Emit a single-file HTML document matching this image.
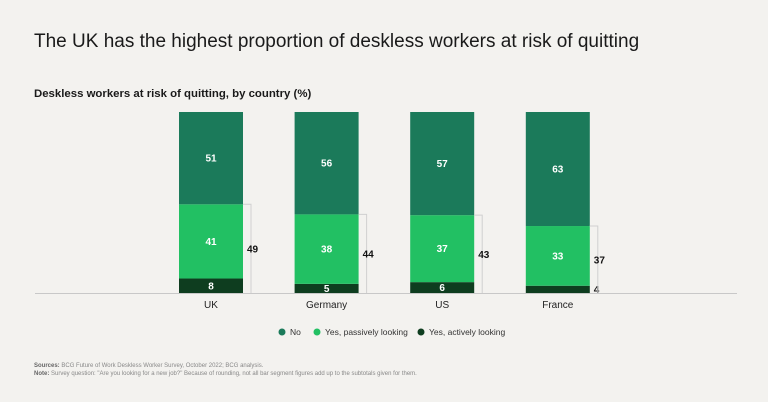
<!DOCTYPE html>
<html><head><meta charset="utf-8"><style>
body{margin:0;background:#f3f2ef;font-family:"Liberation Sans",sans-serif;}
#c{position:relative;width:768px;height:402px;overflow:hidden;}
</style></head><body>
<div id="c">
<svg id="s" width="768" height="402">
<text x="34" y="47" font-size="19" fill="#1a1a1a">The UK has the highest proportion of deskless workers at risk of quitting</text>
<text x="34" y="97" font-size="11.4" font-weight="bold" fill="#1a1a1a">Deskless workers at risk of quitting, by country (%)</text>
<line x1="35" x2="737" y1="293.5" y2="293.5" stroke="#c8c8c8"/>
<g id="bars"></g>
<g font-size="8.5" fill="#333">
<g><circle cx="282" cy="332" r="3.5" fill="#1b7a5a"/><text x="290" y="335">No</text></g>
<g><circle cx="317" cy="332" r="3.5" fill="#22c063"/><text x="325" y="335">Yes, passively looking</text></g>
<g><circle cx="421" cy="332" r="3.5" fill="#0e3d1f"/><text x="429" y="335">Yes, actively looking</text></g>
</g>
<text x="34" y="367" font-size="6" fill="#888"><tspan font-weight="bold" fill="#666">Sources:</tspan> BCG Future of Work Deskless Worker Survey, October 2022; BCG analysis.</text>
<text x="34" y="375" font-size="6" fill="#888"><tspan font-weight="bold" fill="#666">Note:</tspan> Survey question: "Are you looking for a new job?" Because of rounding, not all bar segment figures add up to the subtotals given for them.</text>
</svg></div>
<script>
const categories=["UK","Germany","US","France"];
const noVals=[51,56,57,63];
const passiveVals=[41,38,37,33];
const activeVals=[8,5,6,4];
const subtotals=[49,44,43,37];
const base=293,scale=1.81,bw=64;
function xPos(i){return 179+i*115.6;}
function yLen(v){return v*scale;}
const g=document.getElementById('bars');const NS="http://www.w3.org/2000/svg";
function mk(t,a){const e=document.createElementNS(NS,t);for(const k in a)e.setAttribute(k,a[k]);g.appendChild(e);return e;}
categories.forEach((c,i)=>{
  const x=xPos(i);let y=base;
  const segs=[[activeVals[i],"#0e3d1f","active"],[passiveVals[i],"#22c063","passive"],[noVals[i],"#1b7a5a","no"]];
  const tot=activeVals[i]+passiveVals[i]+noVals[i];
  segs.forEach(([v,col,n])=>{
    const h=yLen(v)*100/tot;y-=h;
    const r=mk('rect',{x:x,y:y,width:bw,height:h,fill:col});
    
    
    const small=v<5;
    const t=mk('text',small?{x:x+bw+4,y:y+h/2+3.5,'font-size':10,'font-weight':'bold',fill:'#111'}:{x:x+bw/2,y:y+h/2+3.5,'text-anchor':'middle','font-size':10,'font-weight':'bold',fill:'#fff'});
    t.textContent=v;
    
    
  });
  const topP=base-yLen(activeVals[i]+passiveVals[i])*100/tot;
  const br=mk('path',{d:`M${x+bw} ${topP}H${x+bw+8}V${base}`,fill:'none',stroke:'#d0d0d0','stroke-width':1});
  
  
  const st=mk('text',{x:x+bw+4,y:(topP+base)/2+4,'font-size':10,'font-weight':'bold',fill:'#111'});
  st.textContent=subtotals[i];
  
  
  const cl=mk('text',{x:x+bw/2,y:base+15,'text-anchor':'middle','font-size':10,fill:'#222'});
  cl.textContent=c;
  
  
});
</script>
</body></html>
